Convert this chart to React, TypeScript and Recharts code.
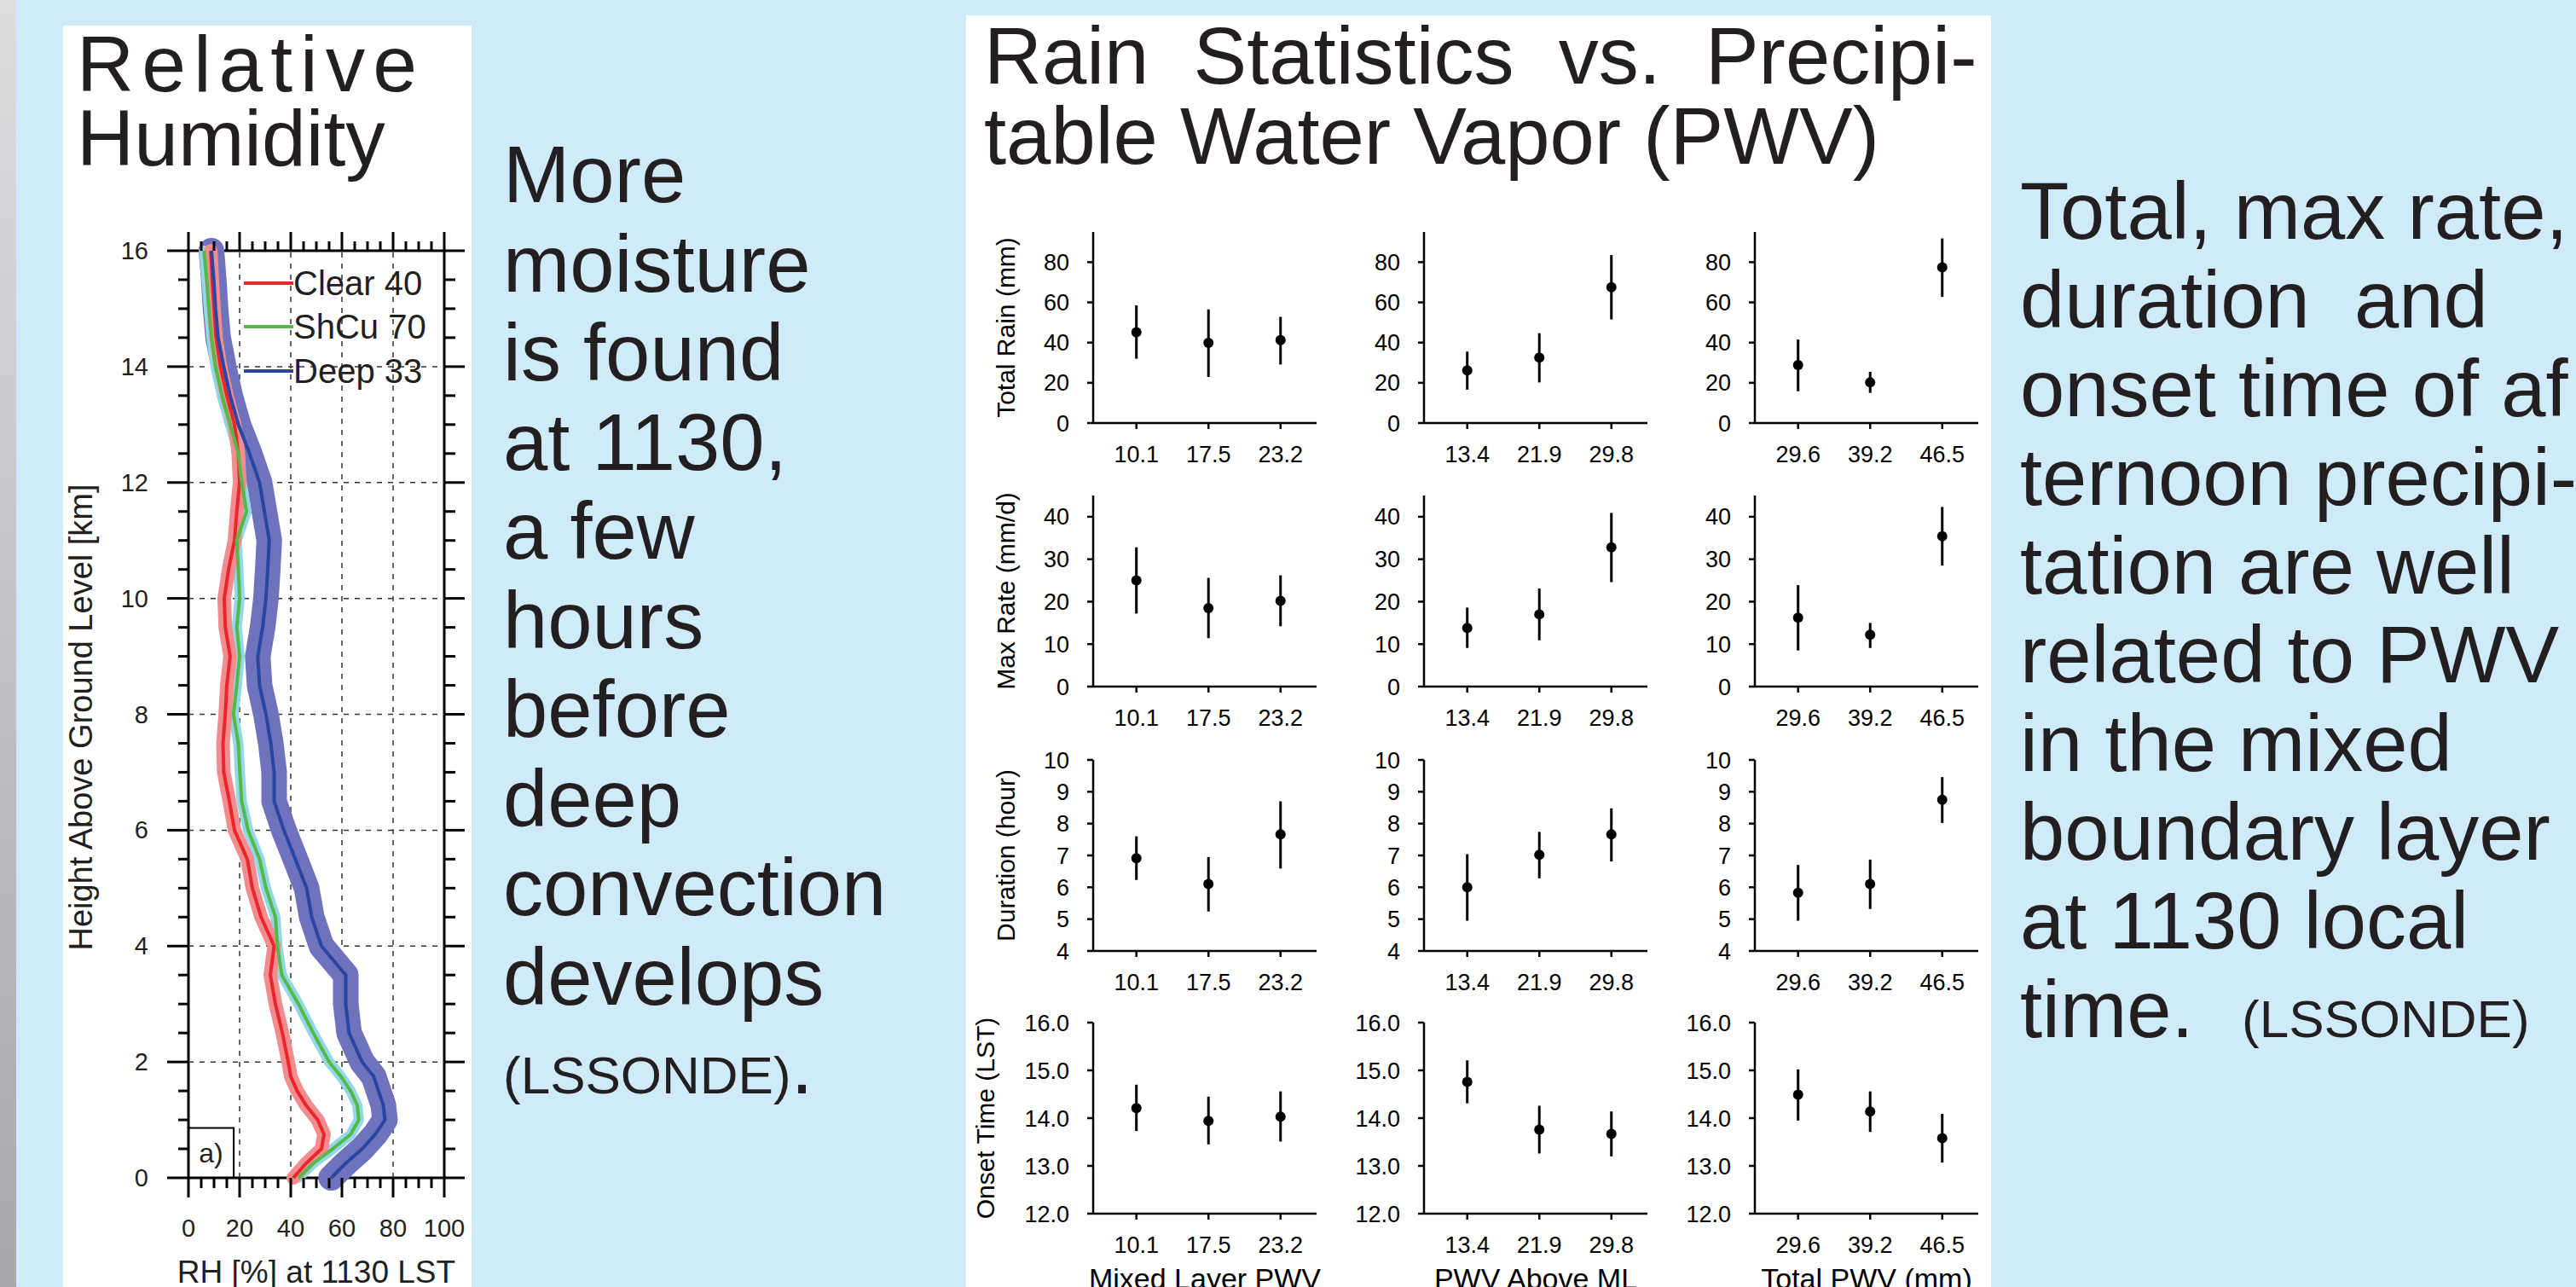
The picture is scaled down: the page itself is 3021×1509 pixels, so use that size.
import React from "react";
import {
  ComposedChart,
  ScatterChart,
  Scatter,
  Line,
  XAxis,
  YAxis,
  ReferenceLine,
  ReferenceArea,
  ErrorBar,
  Legend,
} from "recharts";

const FONT = '"Liberation Sans", Arial, Helvetica, sans-serif';
const INK = "#231f20";
const BG = "#cfebf9";

// ---- relative humidity profiles at 1130 LST (left panel) ----
const heightKm = [
  0, 0.25, 0.5, 0.75, 1, 1.25, 1.5, 1.75, 2, 2.5, 3, 3.5, 4, 4.5, 5, 5.5, 6, 6.5, 7, 7.5, 8, 8.5, 9, 9.5, 10,
  10.5, 11, 11.5, 12, 12.5, 13, 13.5, 14, 14.5, 15, 15.5, 16,
];
const rhClear = [
  41, 46, 52, 53, 50.5, 46, 42.5, 40, 39, 36.7, 34, 32, 33.5, 28.4, 25, 23, 18, 16, 13.8, 13.5, 14.4, 15, 16.3,
  14.4, 14, 15.7, 18, 18.9, 20, 19.5, 18, 15, 12.5, 10.8, 10, 9.3, 8.7,
];
const rhShcu = [
  43, 48.8, 56.4, 63.4, 66.6, 66, 63.4, 59.6, 55, 48.8, 43, 36.5, 34.8, 34, 30.3, 27.8, 23.3, 20.8, 20.1, 19.5,
  17.6, 18.9, 20, 18.9, 20, 19.5, 18.9, 22.7, 20.8, 19.5, 16.3, 13.1, 10.6, 9, 8, 7.1, 6.1,
];
const rhDeep = [
  55.8, 61.5, 67.9, 73, 76.8, 76.2, 74.3, 72.4, 67.9, 62.8, 61.5, 61.5, 52, 48.2, 46.2, 41.8, 37.3, 33.5, 33.5,
  32.2, 30.3, 27.8, 27.1, 29, 30.3, 31, 31.6, 29.7, 27.8, 23.9, 19.5, 16.3, 13.8, 11.6, 10.6, 9.9, 9,
];

const rhSeries = [
  { key: "clear", name: "Clear 40", line: "#e8262b", band: "#f28c8e", bandWidth: 16 },
  { key: "shcu", name: "ShCu 70", line: "#55b848", band: "#93d8e7", bandWidth: 12 },
  { key: "deep", name: "Deep 33", line: "#2a46a3", band: "#6f73bd", bandWidth: 30 },
];

const rhXTicks = [0, 5, 10, 15, 20, 25, 30, 35, 40, 45, 50, 55, 60, 65, 70, 75, 80, 85, 90, 95, 100];
const kmTicks = Array.from({ length: 33 }, (_, i) => i * 0.5);
const rhGridX = [20, 40, 60, 80];
const rhGridY = [2, 4, 6, 8, 10, 12, 14];

const rhRows = heightKm.map((h, i) => ({ h, clear: rhClear[i], shcu: rhShcu[i], deep: rhDeep[i] }));

// ---- rain statistics vs PWV (middle panel) ----
const pwvMixed = ["10.1", "17.5", "23.2"];
const pwvAbove = ["13.4", "21.9", "29.8"];
const pwvTotal = ["29.6", "39.2", "46.5"];
const pwvLabels = [pwvMixed, pwvAbove, pwvTotal];
const pwvTitles = ["Mixed Layer PWV", "PWV Above ML", "Total PWV (mm)"];

// [column][point], columns: mixed layer PWV, PWV above ML, total PWV
const totalRain = [[45.2, 39.9, 41.2], [26.2, 32.6, 67.5], [28.8, 20.2, 77.4]];
const totalRainLo = [[32, 22.9, 29.1], [16.6, 20.2, 51.5], [15.8, 15, 62.7]];
const totalRainHi = [[58.5, 56.5, 52.8], [35.5, 44.7, 83.5], [41.5, 25.5, 91.8]];
const maxRate = [[25, 18.5, 20.2], [13.8, 17, 32.8], [16.2, 12.2, 35.4]];
const maxRateLo = [[17.2, 11.4, 14.2], [9.1, 10.9, 24.6], [8.5, 9.1, 28.5]];
const maxRateHi = [[32.8, 25.6, 26.2], [18.6, 23.1, 40.9], [23.9, 15, 42.3]];
const duration = [[6.91, 6.1, 7.66], [6.0, 7.02, 7.66], [5.83, 6.1, 8.75]];
const durationLo = [[6.23, 5.24, 6.59], [4.95, 6.28, 6.81], [4.95, 5.32, 8.02]];
const durationHi = [[7.6, 6.95, 8.7], [7.04, 7.74, 8.48], [6.7, 6.87, 9.46]];
const onset = [[14.21, 13.94, 14.03], [14.76, 13.76, 13.67], [14.49, 14.14, 13.58]];
const onsetLo = [[13.73, 13.45, 13.51], [14.31, 13.26, 13.2], [13.95, 13.71, 13.07]];
const onsetHi = [[14.7, 14.45, 14.56], [15.21, 14.26, 14.14], [15.02, 14.56, 14.09]];

const statRows = [
  { title: "Total Rain (mm)", mid: totalRain, lo: totalRainLo, hi: totalRainHi, domain: [0, 95], ticks: [0, 20, 40, 60, 80], fmt: (v: number) => String(v) },
  { title: "Max Rate (mm/d)", mid: maxRate, lo: maxRateLo, hi: maxRateHi, domain: [0, 45], ticks: [0, 10, 20, 30, 40], fmt: (v: number) => String(v) },
  { title: "Duration (hour)", mid: duration, lo: durationLo, hi: durationHi, domain: [4, 10], ticks: [4, 5, 6, 7, 8, 9, 10], fmt: (v: number) => String(v) },
  { title: "Onset Time (LST)", mid: onset, lo: onsetLo, hi: onsetHi, domain: [12, 16], ticks: [12, 13, 14, 15, 16], fmt: (v: number) => v.toFixed(1) },
];

// ---- text blocks ----
const midLines = ["More", "moisture", "is found", "at 1130,", "a few", "hours", "before", "deep", "convection", "develops"];
const rightLines = [
  "Total, max rate,",
  "duration  and",
  "onset time of af",
  "ternoon precipi-",
  "tation are well",
  "related to PWV",
  "in the mixed",
  "boundary layer",
  "at 1130 local",
];

// layout
const RH_PLOT_W = 300;
const RH_PLOT_H = 1087;
const PLOT_W = 262;
const PLOT_H = 224;
const TOP_PAD = 24;
const colAxisX = [1282, 1670, 2058];
const rowTop = [272, 581, 891, 1199];

function RhXTick(p: any) {
  const v = p.payload.value as number;
  const major = v % 20 === 0;
  const { x, y } = p;
  return (
    <g>
      <line x1={x} x2={x} y1={y} y2={y + (major ? 23 : 12)} stroke="#000" strokeWidth={3} />
      <line x1={x} x2={x} y1={y - RH_PLOT_H} y2={y - RH_PLOT_H - (major ? 22 : 11)} stroke="#000" strokeWidth={3} />
      {major && (
        <text x={x} y={y + 69} textAnchor="middle" fontSize={29} fontFamily={FONT} fill={INK}>
          {v}
        </text>
      )}
    </g>
  );
}

function RhYTick(p: any) {
  const v = p.payload.value as number;
  const major = v % 2 === 0;
  const { x, y } = p;
  return (
    <g>
      <line x1={x} x2={x - (major ? 25 : 12)} y1={y} y2={y} stroke="#000" strokeWidth={3} />
      <line x1={x + RH_PLOT_W} x2={x + RH_PLOT_W + (major ? 24 : 13)} y1={y} y2={y} stroke="#000" strokeWidth={3} />
      {major && (
        <text x={x - 47} y={y + 10} textAnchor="end" fontSize={29} fontFamily={FONT} fill={INK}>
          {v}
        </text>
      )}
    </g>
  );
}

function renderRhLegend(props: any) {
  const order = rhSeries.map((s) => s.name);
  const items = (props.payload || [])
    .filter((it: any) => order.includes(it.value))
    .sort((a: any, b: any) => order.indexOf(a.value) - order.indexOf(b.value));
  return (
    <div>
      {items.map((it: any) => (
        <div key={it.value} style={{ display: "flex", alignItems: "center", height: 51.5 }}>
          <div style={{ width: 58, height: 4, background: it.color }} />
          <span style={{ fontSize: 40, fontFamily: FONT, color: INK, lineHeight: "40px", whiteSpace: "nowrap" }}>
            {it.value}
          </span>
        </div>
      ))}
    </div>
  );
}

function RhChart() {
  return (
    <div style={{ position: "absolute", left: 0, top: 0 }}>
      <ComposedChart
        layout="vertical"
        width={560}
        height={1509}
        data={rhRows}
        margin={{ top: 294, right: 39, bottom: 0, left: 0 }}
      >
        <XAxis
          type="number"
          domain={[0, 100]}
          ticks={rhXTicks}
          interval={0}
          height={128}
          axisLine={false}
          tickLine={false}
          tickSize={0}
          tickMargin={0}
          tick={RhXTick}
          label={{
            content: () => (
              <text x={371} y={1504} textAnchor="middle" fontSize={37} fontFamily={FONT} fill={INK}>
                RH [%] at 1130 LST
              </text>
            ),
          }}
        />
        <YAxis
          type="number"
          dataKey="h"
          domain={[0, 16]}
          reversed
          ticks={kmTicks}
          interval={0}
          width={221}
          axisLine={false}
          tickLine={false}
          tickSize={0}
          tickMargin={0}
          tick={RhYTick}
          label={{
            content: () => (
              <text
                transform="translate(108,841) rotate(-90)"
                textAnchor="middle"
                fontSize={38}
                fontFamily={FONT}
                fill={INK}
              >
                Height Above Ground Level [km]
              </text>
            ),
          }}
        />
        {rhGridX.map((v) => (
          <ReferenceLine key={`gx${v}`} x={v} stroke="#333" strokeWidth={1.5} strokeDasharray="6 7" />
        ))}
        {rhGridY.map((v) => (
          <ReferenceLine key={`gy${v}`} y={v} stroke="#333" strokeWidth={1.5} strokeDasharray="6 7" />
        ))}
        <ReferenceArea
          x1={0}
          x2={17.7}
          y1={0}
          y2={0.86}
          fill="#fff"
          fillOpacity={1}
          stroke="#000"
          strokeWidth={2}
          label={{ value: "a)", position: "center", fontSize: 32, fill: INK, fontFamily: FONT }}
        />
        <ReferenceArea x1={0} x2={100} y1={0} y2={16} fill="none" stroke="#000" strokeWidth={3} />
        {rhSeries
          .slice()
          .reverse()
          .map((s) => (
            <Line
              key={`${s.key}-band`}
              dataKey={s.key}
              stroke={s.band}
              strokeWidth={s.bandWidth}
              strokeLinejoin="round"
              strokeLinecap="round"
              dot={false}
              activeDot={false}
              legendType="none"
              isAnimationActive={false}
            />
          ))}
        {rhSeries.map((s) => (
          <Line
            key={s.key}
            dataKey={s.key}
            name={s.name}
            stroke={s.line}
            strokeWidth={4}
            strokeLinejoin="round"
            dot={false}
            activeDot={false}
            isAnimationActive={false}
          />
        ))}
        <Legend
          layout="vertical"
          align="center"
          verticalAlign="middle"
          wrapperStyle={{ left: 286, top: 306, width: 240 }}
          content={renderRhLegend}
        />
      </ComposedChart>
    </div>
  );
}

const Dot = (p: any) => <circle cx={p.cx} cy={p.cy} r={6} fill="#000" />;

function StatPanel({ row, col }: { row: number; col: number }) {
  const m = statRows[row];
  const yw = col === 0 ? 150 : 100;
  const xh = row === 3 ? 100 : 56;
  const data = [0, 1, 2].map((i) => ({
    i: i + 1,
    v: m.mid[col][i],
    err: [m.mid[col][i] - m.lo[col][i], m.hi[col][i] - m.mid[col][i]],
  }));
  const titleX = row === 3 ? 34 : 58;
  return (
    <div style={{ position: "absolute", left: colAxisX[col] - yw, top: rowTop[row] - TOP_PAD }}>
      <ScatterChart
        width={yw + PLOT_W + 6}
        height={TOP_PAD + PLOT_H + xh}
        margin={{ top: TOP_PAD, right: 6, bottom: 0, left: 0 }}
      >
        <XAxis
          type="number"
          dataKey="i"
          domain={[0.4, 3.5]}
          ticks={[1, 2, 3]}
          interval={0}
          tickFormatter={(v: number) => pwvLabels[col][v - 1]}
          height={xh}
          stroke="#000"
          axisLine={{ strokeWidth: 2.5 }}
          tickLine={{ strokeWidth: 2.5 }}
          tickSize={7}
          tickMargin={20}
          tick={{ fontSize: 27, fill: "#000", fontFamily: FONT }}
          label={
            row === 3
              ? {
                  content: () => (
                    <text
                      x={yw + PLOT_W / 2}
                      y={TOP_PAD + PLOT_H + 88}
                      textAnchor="middle"
                      fontSize={34}
                      fontFamily={FONT}
                      fill="#000"
                    >
                      {pwvTitles[col]}
                    </text>
                  ),
                }
              : undefined
          }
        />
        <YAxis
          type="number"
          domain={m.domain}
          ticks={m.ticks}
          interval={0}
          tickFormatter={m.fmt}
          width={yw}
          stroke="#000"
          axisLine={{ strokeWidth: 2.5 }}
          tickLine={{ strokeWidth: 2.5 }}
          tickSize={7}
          tickMargin={21}
          tick={{ fontSize: 27, fill: "#000", fontFamily: FONT }}
          label={
            col === 0
              ? {
                  content: () => (
                    <text
                      transform={`translate(${titleX},${TOP_PAD + PLOT_H / 2}) rotate(-90)`}
                      textAnchor="middle"
                      fontSize={30}
                      fontFamily={FONT}
                      fill="#000"
                    >
                      {m.title}
                    </text>
                  ),
                }
              : undefined
          }
        />
        <Scatter data={data} dataKey="v" fill="#000" shape={Dot} isAnimationActive={false}>
          <ErrorBar dataKey="err" direction="y" width={0} stroke="#000" strokeWidth={3} />
        </Scatter>
      </ScatterChart>
    </div>
  );
}

export default function App() {
  return (
    <div
      style={{
        position: "absolute",
        left: 0,
        top: 0,
        width: 3021,
        height: 1509,
        overflow: "hidden",
        background: BG,
        fontFamily: FONT,
      }}
    >
      <div
        style={{
          position: "absolute",
          left: 0,
          top: 0,
          width: 19,
          height: 1509,
          background: "linear-gradient(#dcdddf, #a6a8ab)",
        }}
      />
      <div style={{ position: "absolute", left: 74, top: 30, width: 479, height: 1479, background: "#fff" }} />
      <div style={{ position: "absolute", left: 1133, top: 18, width: 1202, height: 1491, background: "#fff" }} />

      <svg width={3021} height={1509} style={{ position: "absolute", left: 0, top: 0 }}>
        <g fontFamily={FONT} fill={INK}>
          <text x={90} y={107} fontSize={93} letterSpacing={9}>
            Relative
          </text>
          <text x={90} y={194} fontSize={93}>
            Humidity
          </text>
          <text x={1154} y={98} fontSize={94} wordSpacing={26}>
            Rain Statistics vs. Precipi-
          </text>
          <text x={1154} y={192} fontSize={94}>
            table Water Vapor (PWV)
          </text>
          {midLines.map((t, i) => (
            <text key={t} x={590} y={237 + i * 104.5} fontSize={94}>
              {t}
            </text>
          ))}
          <text x={590} y={1282} fontSize={94}>
            <tspan fontSize={62}>(LSSONDE)</tspan>
            <tspan>.</tspan>
          </text>
          {rightLines.map((t, i) => (
            <text key={t} x={2369} y={280 + i * 104} fontSize={94} xmlSpace="preserve" style={{ whiteSpace: "pre" }}>
              {t}
            </text>
          ))}
          <text x={2369} y={1216} fontSize={94}>
            <tspan>time.</tspan>
            <tspan x={2629} fontSize={62}>
              (LSSONDE)
            </tspan>
          </text>
        </g>
      </svg>

      <RhChart />
      {[0, 1, 2, 3].map((r) => [0, 1, 2].map((c) => <StatPanel key={`${r}-${c}`} row={r} col={c} />))}
    </div>
  );
}
